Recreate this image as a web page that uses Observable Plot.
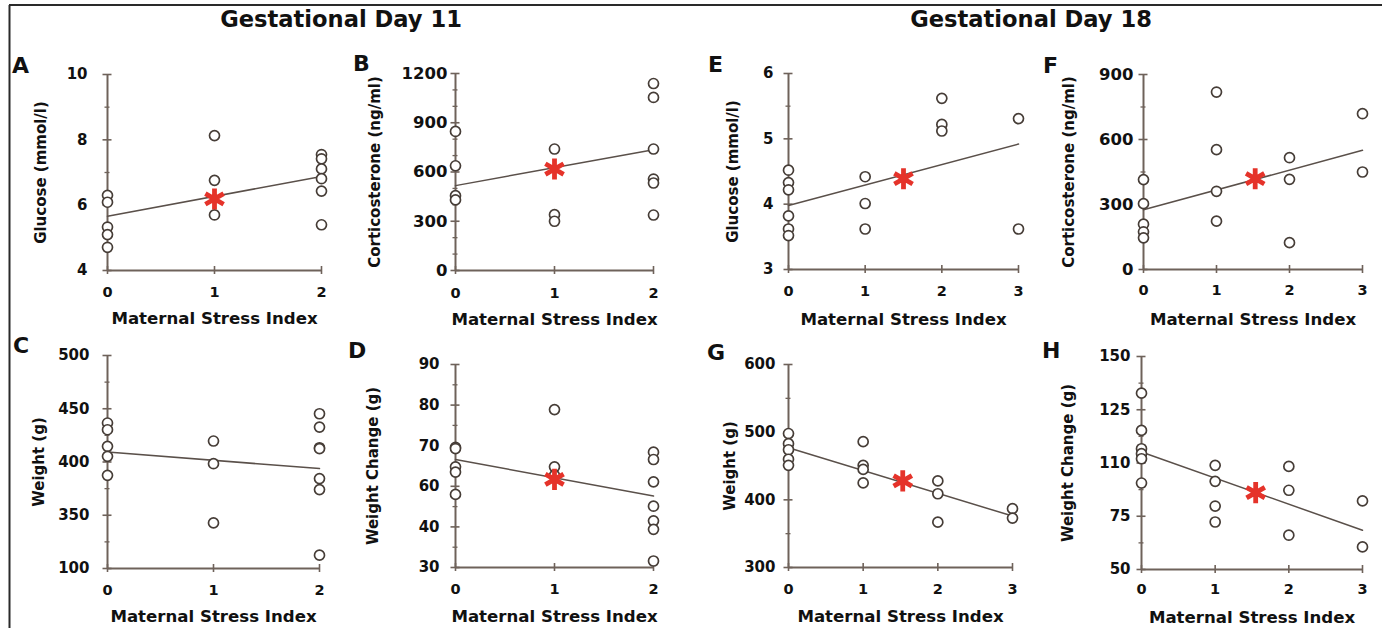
<!DOCTYPE html>
<html><head><meta charset="utf-8">
<script src="https://cdn.jsdelivr.net/npm/d3@7"></script>
<script src="https://cdn.jsdelivr.net/npm/@observablehq/plot@0.6"></script>
<style>
html,body{margin:0;padding:0;background:#fff;}
#fig{position:relative;width:1382px;height:628px;overflow:hidden;font-family:"DejaVu Sans",sans-serif;background:#fff;}
#fig svg{position:absolute;overflow:visible;}
</style></head><body><div id="fig"></div>
<script>
// ---------- data ----------
const xTitle = "Maternal Stress Index";
const headers = ["Gestational Day 11", "Gestational Day 18"];

// A: Glucose, GD11
const A_x = [0,0,0,0,0, 1,1,1, 2,2,2,2,2,2];
const A_y = [6.30,6.09,5.33,5.10,4.71, 8.13,6.76,5.70, 7.55,7.42,7.11,6.81,6.43,5.40];
const A_fit = [5.66, 6.88];
const A_star = [1, 6.19];
const A_ticks = [4,6,8,10], A_labels = ["4","6","8","10"], A_minor = [5,7,9];

// B: Corticosterone, GD11
const B_x = [0,0,0,0, 1,1,1, 2,2,2,2,2,2];
const B_y = [847,638,456,430, 740,340,300, 1139,1054,740,557,533,338];
const B_fit = [517, 736];
const B_star = [1, 618];
const B_ticks = [0,300,600,900,1200], B_labels = ["0","300","600","900","1200"], B_minor = [100,200,400,500,700,800,1000,1100];

// C: Weight, GD11
const C_x = [0,0,0,0,0, 1,1,1, 2,2,2,2,2,2,2];
const C_y = [436.6,430.3,414.7,405.3,387.5, 419.7,398.4,342.8, 445.3,432.8,413.4,412.5,384.4,374.1,312.5];
const C_fit = [409.4, 393.8];
const C_star = null;
const C_ticks = [300,350,400,450,500], C_labels = ["100","350","400","450","500"], C_minor = [325,375,425,475];

// D: Weight change, GD11
const D_x = [0,0,0,0,0, 1,1,1, 2,2,2,2,2,2,2];
const D_y = [69.6,69.3,64.8,63.5,58.0, 78.9,64.8,62.7, 68.4,66.6,61.1,55.1,51.5,49.4,41.6];
const D_fit = [66.6, 57.6];
const D_star = [1, 61.7];
const D_ticks = [40,50,60,70,80,90], D_labels = ["30","40","60","70","80","90"], D_minor = [45,55,65,75,85];

// E: Glucose, GD18
const E_x = [0,0,0,0,0,0, 1,1,1, 2,2,2, 3,3];
const E_y = [4.52,4.33,4.22,3.82,3.62,3.52, 4.42,4.01,3.62, 5.62,5.22,5.12, 5.31,3.62];
const E_fit = [3.98, 4.92];
const E_star = [1.5, 4.39];
const E_ticks = [3,4,5,6], E_labels = ["3","4","5","6"], E_minor = [3.5,4.5,5.5];

// F: Corticosterone, GD18
const F_x = [0,0,0,0,0, 1,1,1,1, 2,2,2, 3,3];
const F_y = [415,304,209,174,146, 819,553,361,223, 516,416,124, 719,450];
const F_fit = [276, 550];
const F_star = [1.53, 419];
const F_ticks = [0,300,600,900], F_labels = ["0","300","600","900"], F_minor = [150,450,750];

// G: Weight, GD18
const G_x = [0,0,0,0,0, 1,1,1,1, 2,2,2, 3,3];
const G_y = [498,483,474,460,451, 486,451,445,425, 428,409,367, 387,373];
const G_fit = [477, 376];
const G_star = [1.53, 428];
const G_ticks = [300,400,500,600], G_labels = ["300","400","500","600"], G_minor = [350,450,550];

// H: Weight change, GD18
const H_x = [0,0,0,0,0,0, 1,1,1,1, 2,2,2, 3,3];
const H_y = [132.8,115.3,106.7,104.4,102.0,90.6, 98.9,91.4,79.8,72.3, 98.4,87.2,66.1, 82.2,60.6];
const H_fit = [105.2, 68.4];
const H_star = [1.55, 86.1];
const H_ticks = [50,75,100,125,150], H_labels = ["50","75","110","125","150"], H_minor = [62.5,87.5,112.5,137.5];

// ---------- styles ----------
const AXIS = "#6e625a", LINE = "#5a504a", DOT = "#463d37", RED = "#e5332a", INK = "#111111";
const FONT = "DejaVu Sans";

// ---------- layout ----------
const panels = [
  {letter:"A", lx:12, ly:73, x0:107, x1:321, yTop:74, yBot:270, xmax:2, ydom:[4,10], ticks:A_ticks, labels:A_labels, minor:A_minor, gap:20, yFont:15, yTitle:"Glucose (mmol/l)", yOff:66, xs:A_x, ys:A_y, fit:A_fit, star:A_star, xPad:16, tOff:48},
  {letter:"B", lx:353, ly:71, x0:455, x1:653, yTop:73, yBot:270, xmax:2, ydom:[0,1200], ticks:B_ticks, labels:B_labels, minor:B_minor, gap:8, yFont:16.5, yTitle:"Corticosterone (ng/ml)", yOff:80, xs:B_x, ys:B_y, fit:B_fit, star:B_star, xPad:17, tOff:49},
  {letter:"E", lx:708, ly:72, x0:788, x1:1018, yTop:73, yBot:269, xmax:3, ydom:[3,6], ticks:E_ticks, labels:E_labels, minor:E_minor, gap:15, yFont:15, yTitle:"Glucose (mmol/l)", yOff:55, xs:E_x, ys:E_y, fit:E_fit, star:E_star, xPad:16, tOff:50},
  {letter:"F", lx:1043, ly:73, x0:1143, x1:1362, yTop:74, yBot:269, xmax:3, ydom:[0,900], ticks:F_ticks, labels:F_labels, minor:F_minor, gap:10, yFont:16.5, yTitle:"Corticosterone (ng/ml)", yOff:74, xs:F_x, ys:F_y, fit:F_fit, star:F_star, xPad:15, tOff:50},
  {letter:"C", lx:13, ly:353, x0:107, x1:319, yTop:355, yBot:568, xmax:2, ydom:[300,500], ticks:C_ticks, labels:C_labels, minor:C_minor, gap:18, yFont:15, yTitle:"Weight (g)", yOff:68, xs:C_x, ys:C_y, fit:C_fit, star:C_star, xPad:16, tOff:48},
  {letter:"D", lx:348, ly:358, x0:455, x1:653, yTop:364, yBot:567, xmax:2, ydom:[40,90], ticks:D_ticks, labels:D_labels, minor:D_minor, gap:16, yFont:15, yTitle:"Weight Change (g)", yOff:82, xs:D_x, ys:D_y, fit:D_fit, star:D_star, xPad:16, tOff:49},
  {letter:"G", lx:707, ly:360, x0:788, x1:1012, yTop:364, yBot:567, xmax:3, ydom:[300,600], ticks:G_ticks, labels:G_labels, minor:G_minor, gap:13, yFont:15, yTitle:"Weight (g)", yOff:58, xs:G_x, ys:G_y, fit:G_fit, star:G_star, xPad:16, tOff:49},
  {letter:"H", lx:1042, ly:358, x0:1141, x1:1362, yTop:356, yBot:569, xmax:3, ydom:[50,150], ticks:H_ticks, labels:H_labels, minor:H_minor, gap:11, yFont:15, yTitle:"Weight Change (g)", yOff:73, xs:H_x, ys:H_y, fit:H_fit, star:H_star, xPad:14, tOff:48}
];

const fig = document.getElementById("fig");
const mL = 100, mR = 20, mT = 15, mB = 65;

for (const p of panels) {
  const width = p.x1 - p.x0 + mL + mR;
  const height = p.yBot - p.yTop + mT + mB;
  const xTicks = d3.range(0, p.xmax + 1);
  const pts = p.xs.map((x, i) => ({x, y: p.ys[i]}));
  const fit = [{x: 0, y: p.fit[0]}, {x: p.xmax, y: p.fit[1]}];
  const lab = new Map(p.ticks.map((t, i) => [t, p.labels[i]]));
  const marks = [
    Plot.ruleX([0], {stroke: AXIS, strokeWidth: 2}),
    Plot.ruleY([p.ydom[0]], {stroke: AXIS, strokeWidth: 2}),
    Plot.axisY(p.ticks, {tickSize: 9, dx: 4.5, fill: "none", stroke: AXIS, strokeWidth: 1.6, label: null}),
    Plot.axisY(p.minor, {tickSize: 5, dx: 2.5, fill: "none", stroke: AXIS, strokeWidth: 1.3, label: null}),
    Plot.axisY(p.ticks, {tickSize: 0, tickPadding: p.gap, tickFormat: d => lab.get(d), fontSize: p.yFont, fontWeight: "bold", fill: INK, label: null}),
    Plot.axisX(xTicks, {tickSize: 8, dy: -4, fill: "none", stroke: AXIS, strokeWidth: 1.6, label: null}),
    Plot.axisX(xTicks, {tickSize: 0, tickPadding: p.xPad, tickFormat: d => String(d), fontSize: 14.5, fontWeight: "bold", fill: INK, label: null}),
    Plot.text([xTitle], {frameAnchor: "bottom", dy: p.tOff, textAnchor: "middle", lineAnchor: "middle", text: d => d, fontSize: 16.6, fontWeight: "bold", fill: INK}),
    Plot.text([p.yTitle], {frameAnchor: "left", dx: -p.yOff, rotate: -90, textAnchor: "middle", lineAnchor: "middle", text: d => d, fontSize: 15, fontWeight: "bold", fill: INK}),
    Plot.line(fit, {x: "x", y: "y", stroke: LINE, strokeWidth: 1.5}),
    Plot.dot(pts, {x: "x", y: "y", r: 5, stroke: DOT, fill: "white", strokeWidth: 1.7})
  ];
  if (p.star) marks.push(Plot.dot([{x: p.star[0], y: p.star[1]}], {x: "x", y: "y", symbol: "asterisk", r: 10, stroke: RED, strokeWidth: 4.8}));
  const svg = Plot.plot({
    width, height,
    marginLeft: mL, marginRight: mR, marginTop: mT, marginBottom: mB,
    x: {domain: [0, p.xmax]},
    y: {domain: p.ydom},
    style: {fontFamily: FONT, background: "transparent", overflow: "visible"},
    marks
  });
  svg.style.left = (p.x0 - mL) + "px";
  svg.style.top = (p.yTop - mT) + "px";
  fig.appendChild(svg);
}

// overlay: frame lines, headers, panel letters
const ov = d3.create("svg").attr("width", 1382).attr("height", 628)
  .style("left", "0px").style("top", "0px").style("pointer-events", "none");
ov.append("line").attr("x1", 9).attr("y1", 5).attr("x2", 1382).attr("y2", 5).attr("stroke", "#2a2a2a").attr("stroke-width", 2);
ov.append("line").attr("x1", 9.5).attr("y1", 5).attr("x2", 9.5).attr("y2", 628).attr("stroke", "#2a2a2a").attr("stroke-width", 2);
const hx = [341, 1031];
headers.forEach((h, i) => {
  ov.append("text").attr("x", hx[i]).attr("y", 27).attr("text-anchor", "middle")
    .attr("font-family", FONT).attr("font-weight", "bold").attr("font-size", 22.6).attr("fill", INK).text(h);
});
for (const p of panels) {
  ov.append("text").attr("x", p.lx).attr("y", p.ly)
    .attr("font-family", FONT).attr("font-weight", "bold").attr("font-size", 22).attr("fill", INK).text(p.letter);
}
fig.appendChild(ov.node());
</script></body></html>
